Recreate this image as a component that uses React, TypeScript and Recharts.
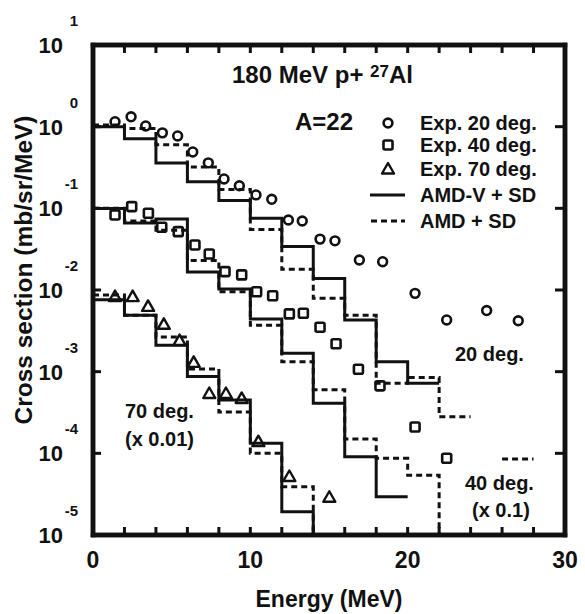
import React from 'react';
import { ComposedChart, Line, XAxis, YAxis } from 'recharts';

const FONT = '"Liberation Sans", Arial, Helvetica, sans-serif';
const INK = '#111';
const W = 585;
const H = 614;

// plot frame in page pixels (axis widths below give the same box)
const LEFT = 93;
const RIGHT = 565;
const TOP = 45;
const BOTTOM = 535;

// below the axis floor: histogram drops off the bottom of the frame
const FLOOR = 1e-7;

// histogram bin edges (MeV); each value holds from its edge to the next one
const binEdges = [0, 2, 4, 6, 8, 10, 12, 14, 16, 18, 20, 22, 24, 26, 28];

// 20 deg
const amdv20 = [1.0, 0.71, 0.36, 0.212, 0.125, 0.0755, 0.034, 0.0138, 0.0043, 0.00132, 0.00072, 0.00072, null, null, null];
const amd20 = [1.05, 0.95, 0.6, 0.32, 0.17, 0.055, 0.018, 0.0079, 0.0049, 0.00072, 0.00085, 0.00028, 0.00028, null, null];
// 40 deg (x 0.1)
const amdv40 = [0.0996, 0.066, 0.074, 0.0166, 0.0103, 0.0044, 0.00168, 0.00041, 0.000091, 0.0000295, 0.0000295, null, null, null, null];
const amd40 = [0.1, 0.07, 0.054, 0.0229, 0.0095, 0.0037, 0.00132, 0.0006, 0.00015, 0.000087, 0.000054, FLOOR, null, 0.000085, 0.000085];
// 70 deg (x 0.01)
const amdv70 = [0.0076, 0.0049, 0.0021, 0.00087, 0.00045, 0.000133, 0.0000193, FLOOR, null, null, null, null, null, null, null];
const amd70 = [0.0087, 0.0049, 0.00265, 0.00108, 0.00032, 0.0001, 0.000039, FLOOR, null, null, null, null, null, null, null];

// experimental points
const exp20E = [1.4, 2.42, 3.35, 4.41, 5.38, 6.34, 7.33, 8.33, 9.3, 10.36, 11.36, 12.42, 13.3, 14.43, 15.38, 16.93, 18.41, 20.47, 22.48, 25.02, 27.03];
const exp20 = [1.15, 1.32, 1.02, 0.84, 0.77, 0.49, 0.36, 0.229, 0.189, 0.146, 0.129, 0.072, 0.07, 0.042, 0.04, 0.0233, 0.0222, 0.0091, 0.0043, 0.0056, 0.0042];
const exp40E = [1.4, 2.46, 3.52, 4.37, 5.42, 6.48, 7.39, 8.39, 9.45, 10.4, 11.42, 12.48, 13.37, 14.43, 15.45, 16.87, 18.24, 20.47, 22.48];
const exp40 = [0.083, 0.105, 0.087, 0.0586, 0.0518, 0.0356, 0.0276, 0.0168, 0.0153, 0.0095, 0.0085, 0.0051, 0.0052, 0.0035, 0.0022, 0.00107, 0.00067, 0.00021, 0.000087];
const exp70E = [1.4, 2.52, 3.5, 4.5, 5.5, 6.4, 7.39, 8.45, 9.45, 10.51, 12.48, 15.02];
const exp70 = [0.0083, 0.0083, 0.0063, 0.0038, 0.0024, 0.0013, 0.00054, 0.00054, 0.00047, 0.000139, 0.000052, 0.000029];

const energyTicks = [0, 2, 4, 6, 8, 10, 12, 14, 16, 18, 20, 22, 24, 26, 28, 30];
const energyLabels = [0, 10, 20, 30];
const decadeTicks = [1e-5, 1e-4, 1e-3, 1e-2, 1e-1, 1, 10];

const histRows = binEdges.map((x, i) => ({
  x,
  amdv20: amdv20[i],
  amd20: amd20[i],
  amdv40: amdv40[i],
  amd40: amd40[i],
  amdv70: amdv70[i],
  amd70: amd70[i],
}));

const points = (es: number[], vs: number[]) => es.map((x, i) => ({ x, y: vs[i] }));

const txt = { fontFamily: FONT, fontWeight: 'bold' as const, fill: INK };

// tick positions of the frame, for the inward tick marks
const tickX = (e: number) => LEFT + ((RIGHT - LEFT) * e) / 30;
const tickY = (v: number) => TOP + ((BOTTOM - TOP) * (1 - Math.log10(v))) / 6;

function Ring({ cx, cy }: any) {
  return <circle cx={cx} cy={cy} r={4.4} fill="none" stroke={INK} strokeWidth={2.6} />;
}

function Box({ cx, cy }: any) {
  return <rect x={cx - 4.5} y={cy - 4.5} width={9} height={9} rx={1.5} fill="none" stroke={INK} strokeWidth={2.6} />;
}

function Tri({ cx, cy }: any) {
  return (
    <polygon
      points={`${cx},${cy - 6} ${cx - 6},${cy + 4.5} ${cx + 6},${cy + 4.5}`}
      fill="none"
      stroke={INK}
      strokeWidth={2.4}
      strokeLinejoin="round"
    />
  );
}

function LeftTick({ x, y, payload }: any) {
  const exp = Math.round(Math.log10(payload.value));
  return (
    <g>
      <text x={x - 30} y={y + 8} textAnchor="end" fontSize={22} {...txt}>10</text>
      <text x={x - 15} y={y - 19} textAnchor="end" fontSize={15} {...txt}>{exp}</text>
    </g>
  );
}

function BottomTick({ x, y, payload }: any) {
  if (!energyLabels.includes(payload.value)) return <g />;
  return (
    <text x={x} y={y + 33} textAnchor="middle" fontSize={23} {...txt}>{payload.value}</text>
  );
}

const axisLine = { stroke: INK, strokeWidth: 4.5, strokeLinecap: 'square' as const };

export default function App() {
  const histo = (key: string, dashed: boolean) => (
    <Line
      key={key}
      xAxisId="b"
      yAxisId="l"
      dataKey={key}
      type="stepAfter"
      stroke={INK}
      strokeWidth={3}
      strokeDasharray={dashed ? '6 4' : undefined}
      dot={false}
      activeDot={false}
      connectNulls={false}
      isAnimationActive={false}
    />
  );

  // experimental points: a line with no stroke, only its markers
  const marks = (name: string, data: { x: number; y: number }[], Shape: any) => (
    <Line
      key={name}
      xAxisId="b"
      yAxisId="l"
      data={data}
      dataKey="y"
      stroke="none"
      dot={(p: any) => <Shape key={`${name}-${p.index}`} cx={p.cx} cy={p.cy} />}
      activeDot={false}
      isAnimationActive={false}
    />
  );

  return (
    <div style={{ position: 'absolute', left: 0, top: 0, width: W, height: H, background: '#fff' }}>
      <svg width={W} height={H} style={{ position: 'absolute', left: 0, top: 0, pointerEvents: 'none' }}>
        {/* frame and inward ticks */}
        <rect x={LEFT} y={TOP} width={RIGHT - LEFT} height={BOTTOM - TOP} fill="none" stroke={INK} strokeWidth={4.5} />
        {energyTicks.map((e) => (
          <g key={`xt${e}`}>
            <rect x={tickX(e) - 1.5} y={TOP} width={3} height={8} fill={INK} />
            <rect x={tickX(e) - 1.5} y={BOTTOM - 8} width={3} height={8} fill={INK} />
          </g>
        ))}
        {decadeTicks.map((v) => (
          <g key={`yt${v}`}>
            <rect x={LEFT} y={tickY(v) - 1.5} width={8} height={3} fill={INK} />
            <rect x={RIGHT - 10} y={tickY(v) - 1.5} width={10} height={3} fill={INK} />
          </g>
        ))}

        <text x={232} y={83} fontSize={24} {...txt}>
          180 MeV p+ <tspan dy={-6} fontSize={17}>27</tspan><tspan dy={6}>Al</tspan>
        </text>
        <text x={295} y={130} fontSize={24} {...txt}>A=22</text>

        <Ring cx={388} cy={123} />
        <text x={420} y={130} fontSize={20} {...txt}>Exp. 20 deg.</text>
        <Box cx={388} cy={145} />
        <text x={420} y={152} fontSize={20} {...txt}>Exp. 40 deg.</text>
        <Tri cx={388} cy={169} />
        <text x={420} y={176} fontSize={20} {...txt}>Exp. 70 deg.</text>
        <rect x={370} y={193.5} width={35} height={3} fill={INK} />
        <text x={420} y={202} fontSize={20} {...txt}>AMD-V + SD</text>
        <line x1={371} x2={405} y1={221} y2={221} stroke={INK} strokeWidth={3} strokeDasharray="6 4" />
        <text x={420} y={228} fontSize={20} {...txt}>AMD + SD</text>

        <text x={455} y={361} fontSize={20} {...txt}>20 deg.</text>
        <text x={125} y={418} fontSize={20} {...txt}>70 deg.</text>
        <text x={125} y={446} fontSize={20} {...txt}>(x 0.01)</text>
        <text x={465} y={490} fontSize={20} {...txt}>40 deg.</text>
        <text x={472} y={517} fontSize={20} {...txt}>(x 0.1)</text>

        <text x={329} y={607} fontSize={23} textAnchor="middle" {...txt}>Energy (MeV)</text>
        <text x={32} y={270} fontSize={24.5} textAnchor="middle" transform="rotate(-90 32 270)" {...txt}>
          Cross section (mb/sr/MeV)
        </text>
      </svg>

      <ComposedChart width={W} height={H} data={histRows} margin={{ top: 0, right: 0, bottom: 0, left: 0 }}>
        <XAxis
          xAxisId="b"
          dataKey="x"
          type="number"
          domain={[0, 30]}
          ticks={energyTicks}
          interval={0}
          height={BOTTOM > 0 ? H - BOTTOM : 79}
          tickSize={0}
          tickMargin={0}
          axisLine={axisLine}
          tickLine={false}
          tick={<BottomTick />}
        />
        <YAxis
          yAxisId="l"
          type="number"
          scale="log"
          domain={[1e-5, 10]}
          allowDataOverflow
          ticks={decadeTicks}
          interval={0}
          width={LEFT}
          tickSize={0}
          tickMargin={0}
          axisLine={axisLine}
          tickLine={false}
          tick={<LeftTick />}
        />
        <XAxis xAxisId="t" orientation="top" dataKey="x" type="number" domain={[0, 30]} height={TOP} tick={false} tickLine={false} axisLine={axisLine} />
        <YAxis yAxisId="r" orientation="right" type="number" scale="log" domain={[1e-5, 10]} allowDataOverflow width={W - RIGHT} tick={false} tickLine={false} axisLine={axisLine} />

        {histo('amdv20', false)}
        {histo('amd20', true)}
        {histo('amdv40', false)}
        {histo('amd40', true)}
        {histo('amdv70', false)}
        {histo('amd70', true)}

        {/* invisible copy that ties the top and right frame axes into the chart */}
        <Line xAxisId="t" yAxisId="r" dataKey="amdv20" stroke="none" dot={false} activeDot={false} isAnimationActive={false} />

        {marks('exp20', points(exp20E, exp20), Ring)}
        {marks('exp40', points(exp40E, exp40), Box)}
        {marks('exp70', points(exp70E, exp70), Tri)}
      </ComposedChart>
    </div>
  );
}
